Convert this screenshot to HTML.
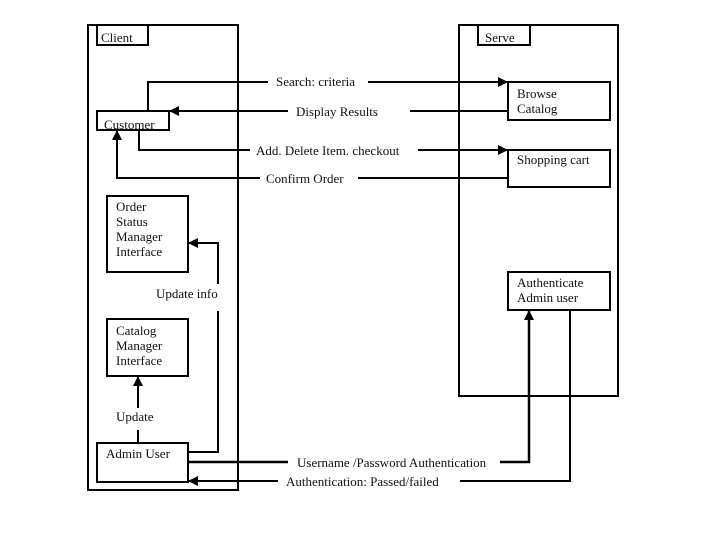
<!DOCTYPE html>
<html><head><meta charset="utf-8"><style>
html,body{margin:0;padding:0;background:#fff;}
svg{display:block;}
text{font-family:"Liberation Serif",serif;font-size:13px;fill:#111;}
</style></head><body>
<svg width="720" height="540" viewBox="0 0 720 540" xmlns="http://www.w3.org/2000/svg">
<defs>
<marker id="a" markerWidth="10" markerHeight="10" refX="9" refY="5" orient="auto" markerUnits="userSpaceOnUse">
<path d="M0,0 L10,5 L0,10 z" fill="#000"/></marker>
</defs>
<g fill="none" stroke="#000" stroke-width="2">
<rect x="88" y="25" width="150" height="465"/>
<rect x="97" y="25" width="51" height="20"/>
<rect x="459" y="25" width="159" height="371"/>
<rect x="478" y="25" width="52" height="20"/>
<rect x="508" y="82" width="102" height="38"/>
<rect x="508" y="150" width="102" height="37"/>
<rect x="508" y="272" width="102" height="38"/>
<rect x="97" y="111" width="72" height="19"/>
<rect x="107" y="196" width="81" height="76"/>
<rect x="107" y="319" width="81" height="57"/>
<rect x="97" y="443" width="91" height="39"/>
</g>
<g fill="none" stroke="#000" stroke-width="2">
<path d="M148,111 V82 H268 M368,82 H507" marker-end="url(#a)"/>
<path d="M508,111 H410 M288,111 H170" marker-end="url(#a)"/>
<path d="M139,130 V150 H250 M418,150 H507" marker-end="url(#a)"/>
<path d="M508,178 H358 M260,178 H117 V131" marker-end="url(#a)"/>
<path d="M188,452 H218 V311 M218,284 V243 H189" marker-end="url(#a)"/>
<path d="M138,443 V430 M138,408 V377" marker-end="url(#a)"/>
<path d="M188,462 H288 M500,462 H529 V311" marker-end="url(#a)" stroke-width="2.5"/>
<path d="M570,310 V481 H460 M278,481 H189" marker-end="url(#a)"/>
</g>
<text x="101" y="42">Client</text>
<text x="485" y="42">Serve</text>
<text x="104" y="129">Customer</text>
<text x="517" y="98">Browse</text>
<text x="517" y="113">Catalog</text>
<text x="517" y="164">Shopping cart</text>
<text x="517" y="287">Authenticate</text>
<text x="517" y="302">Admin user</text>
<text x="116" y="211">Order</text>
<text x="116" y="226">Status</text>
<text x="116" y="241">Manager</text>
<text x="116" y="256">Interface</text>
<text x="116" y="335">Catalog</text>
<text x="116" y="350">Manager</text>
<text x="116" y="365">Interface</text>
<text x="106" y="458">Admin User</text>
<text x="276" y="86">Search: criteria</text>
<text x="296" y="116">Display Results</text>
<text x="256" y="155">Add. Delete Item. checkout</text>
<text x="266" y="183">Confirm Order</text>
<text x="156" y="298">Update info</text>
<text x="116" y="421">Update</text>
<text x="297" y="467">Username /Password Authentication</text>
<text x="286" y="486">Authentication: Passed/failed</text>
</svg>
</body></html>
